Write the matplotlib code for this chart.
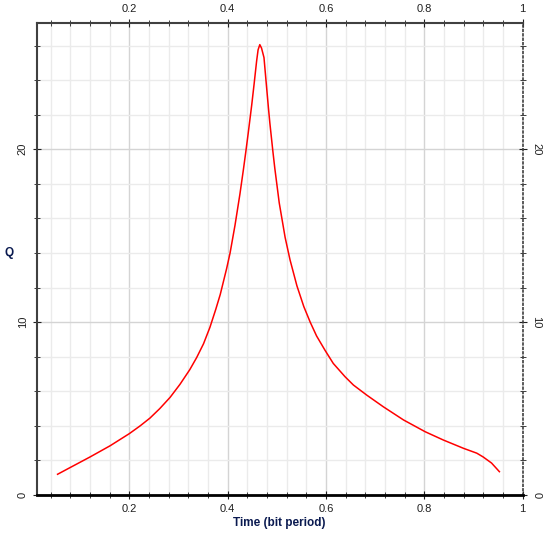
import numpy as np
import matplotlib.pyplot as plt
from matplotlib.ticker import MultipleLocator, FormatStrFormatter

plt.rcParams['font.family'] = ['Liberation Sans', 'DejaVu Sans']

# Q factor vs time
t = [0.054, 0.079, 0.12, 0.161, 0.20, 0.222, 0.242, 0.262, 0.283, 0.303,
     0.323, 0.337, 0.351, 0.364, 0.376, 0.385, 0.398, 0.405, 0.415, 0.425,
     0.432, 0.437, 0.442, 0.449, 0.454, 0.459, 0.462, 0.4655, 0.469, 0.474,
     0.478, 0.483, 0.486, 0.492, 0.496, 0.505, 0.517, 0.527, 0.541, 0.555,
     0.568, 0.581, 0.598, 0.615, 0.639, 0.656, 0.683, 0.717, 0.758, 0.802,
     0.839, 0.880, 0.907, 0.920, 0.937, 0.953]
q = [1.20, 1.58, 2.20, 2.85, 3.55, 4.00, 4.45, 5.00, 5.65, 6.40,
     7.25, 7.95, 8.75, 9.70, 10.75, 11.6, 13.1, 14.0, 15.6, 17.4,
     18.8, 19.85, 20.95, 22.55, 23.8, 25.1, 25.75, 26.05, 25.85, 25.3,
     24.0, 22.4, 21.5, 19.9, 18.9, 16.9, 14.9, 13.6, 12.1, 10.9,
     10.0, 9.2, 8.38, 7.61, 6.84, 6.36, 5.78, 5.10, 4.34, 3.66,
     3.18, 2.70, 2.42, 2.20, 1.85, 1.35]

fig = plt.figure(figsize=(5.5, 5.38), dpi=100)
ax = fig.add_axes([0.0667, 0.0799, 0.8833, 0.8773])

ax.plot(t, q, color='red', lw=1.1)

ax.set_xlim(0.0115, 1.0)
ax.set_ylim(0, 27.3)

ax.xaxis.set_major_locator(MultipleLocator(0.2))
ax.xaxis.set_minor_locator(MultipleLocator(0.04))
ax.xaxis.set_major_formatter(FormatStrFormatter('%g'))
ax.yaxis.set_major_locator(MultipleLocator(10))
ax.yaxis.set_minor_locator(MultipleLocator(2))

ax.grid(which='major', color='#d4d4d4', lw=1.0)
ax.grid(which='minor', color='#ebebeb', lw=1.0)
ax.set_axisbelow(True)

ax.tick_params(which='both', top=True, right=True, labeltop=True, labelright=True,
               direction='inout', labelsize=8, colors='#202020')
ax.tick_params(which='major', length=6)
ax.tick_params(which='minor', length=5)

for tk in ax.yaxis.get_major_ticks():
    tk.label1.set_rotation(90)
    tk.label1.set_va('center')
    tk.label2.set_rotation(-90)
    tk.label2.set_va('center')

ax.spines['bottom'].set_linewidth(2)
ax.spines['bottom'].set_color('black')
ax.spines['left'].set_linewidth(1.5)
ax.spines['left'].set_color('#404040')
ax.spines['top'].set_linewidth(1.5)
ax.spines['top'].set_color('#404040')
ax.spines['right'].set_linestyle(':')
ax.spines['right'].set_linewidth(1.2)
ax.spines['right'].set_color('#404040')

ax.set_xlabel('Time (bit period)', fontsize=8.5, fontweight='bold', color='#0a1a50', labelpad=2)
ax.set_ylabel('Q', fontsize=8.5, fontweight='bold', color='#0a1a50', rotation=0, labelpad=6)

fig.savefig('out.png', dpi=100)
